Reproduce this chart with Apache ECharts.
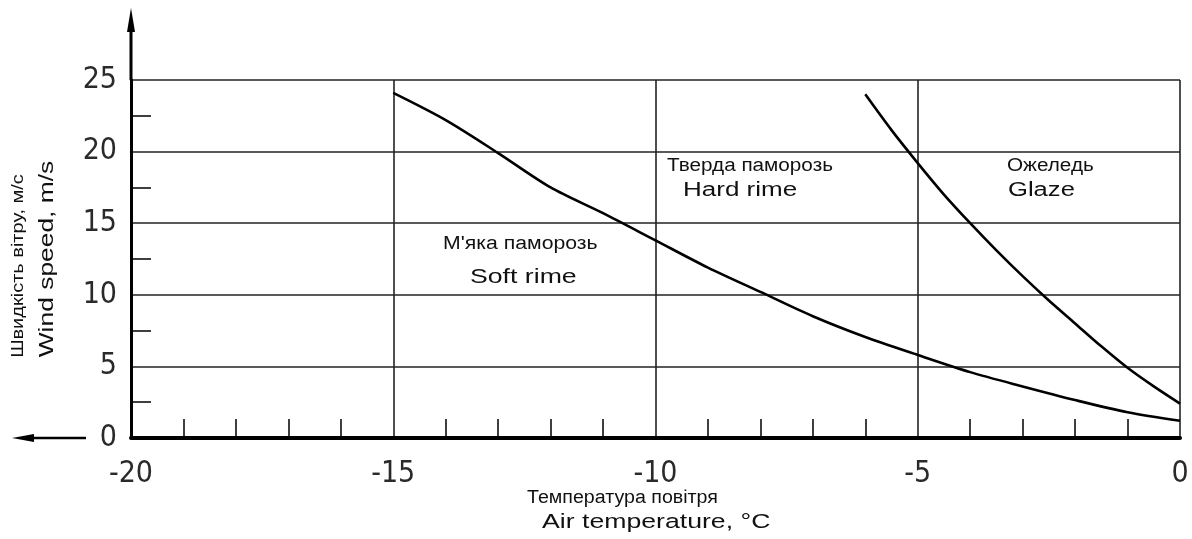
<!DOCTYPE html>
<html><head><meta charset="utf-8">
<script src="https://cdn.jsdelivr.net/npm/echarts@6/dist/echarts.min.js"></script>
<style>html,body{margin:0;padding:0;background:#fff}#c{width:1192px;height:539px}</style>
</head><body><div id="c"></div>
<script>
// ---- data ----
const softTemp  = [-15, -14, -13, -12, -11, -10, -9, -8, -7, -6, -5, -4, -3, -2, -1, 0];
const softWind  = [24.1, 22.2, 19.9, 17.5, 15.7, 13.8, 11.9, 10.2, 8.5, 7.05, 5.8, 4.6, 3.6, 2.65, 1.8, 1.2];
const glazeTemp = [-6, -5.5, -5, -4.5, -4, -3.5, -3, -2.5, -2, -1.5, -1, -0.5, 0];
const glazeWind = [24, 21.5, 19.2, 17.0, 15.0, 13.1, 11.3, 9.6, 8.0, 6.4, 4.9, 3.6, 2.4];
const xTicks = [-20, -15, -10, -5, 0];
const yTicks = [0, 5, 10, 15, 20, 25];
const regionUk = ['Тверда паморозь', 'Ожеледь', "М'яка паморозь"];
const regionEn = ['Hard rime', 'Glaze', 'Soft rime'];
const yTitle = ['Швидкість вітру, м/с', 'Wind speed, m/s'];
const xTitle = ['Температура повітря', 'Air temperature, °C'];

const zip = (a, b) => a.map((v, i) => [v, b[i]]);
const tickFont = "'Liberation Sans Narrow', 'Arial Narrow', 'DejaVu Sans Condensed', sans-serif";
const textFont = "'Liberation Sans', Arial, sans-serif";

const chart = echarts.init(document.getElementById('c'), null, {renderer: 'canvas'});
const option = {
  animation: false,
  backgroundColor: '#fff',
  grid: {left: 131, right: 12, top: 80, bottom: 101},
  xAxis: {
    type: 'value',
    min: xTicks[0], max: xTicks[xTicks.length - 1], interval: xTicks[1] - xTicks[0],
    axisLine: {show: true, onZero: false, lineStyle: {color: '#000', width: 4}},
    axisTick: {show: false, inside: true},
    minorTick: {show: true, splitNumber: 5, length: 19, lineStyle: {color: '#000', width: 1.5}},
    splitLine: {show: true, showMinLine: false, lineStyle: {color: '#222', width: 1.6}},
    axisLabel: {color: '#2a2a2a', fontSize: 30, fontFamily: tickFont, margin: 21}
  },
  yAxis: {
    type: 'value',
    min: yTicks[0], max: yTicks[yTicks.length - 1], interval: yTicks[1] - yTicks[0],
    axisLine: {show: true, onZero: false, lineStyle: {color: '#000', width: 3}},
    axisTick: {show: false, inside: true},
    minorTick: {show: true, splitNumber: 2, length: 20, lineStyle: {color: '#000', width: 1.5}},
    splitLine: {show: true, showMinLine: false, lineStyle: {color: '#222', width: 1.6}},
    axisLabel: {color: '#2a2a2a', fontSize: 30, fontFamily: tickFont, margin: 14}
  },
  series: [
    {type: 'line', data: zip(softTemp, softWind), smooth: 0.3, showSymbol: false,
     lineStyle: {color: '#000', width: 2.6}, z: 5},
    {type: 'line', data: zip(glazeTemp, glazeWind), smooth: 0.3, showSymbol: false,
     lineStyle: {color: '#000', width: 2.6}, z: 5}
  ]
};
chart.setOption(option);

const o = chart.convertToPixel({gridIndex: 0}, [xTicks[0], yTicks[0]]);
const t = chart.convertToPixel({gridIndex: 0}, [xTicks[0], yTicks[yTicks.length - 1]]);

function txt(x, y, s, size, sx) {
  return {
    type: 'text', x: x, y: y, scaleX: sx, z: 10,
    style: {text: s, fill: '#111', fontSize: size, fontFamily: textFont,
      align: 'left', verticalAlign: 'top', textAlign: 'left', textVerticalAlign: 'top'}
  };
}
function rtxt(x, y, s, size, sx) {
  return {
    type: 'text', x: x, y: y, rotation: Math.PI / 2, scaleX: sx, z: 10,
    style: {text: s, fill: '#111', fontSize: size, fontFamily: textFont,
      align: 'center', verticalAlign: 'middle', textAlign: 'center', textVerticalAlign: 'middle'}
  };
}

chart.setOption({
  graphic: [
    // y-axis extension with arrow
    {type: 'line', z: 10, shape: {x1: o[0], y1: t[1], x2: o[0], y2: 24}, style: {stroke: '#000', lineWidth: 3}},
    {type: 'polygon', z: 10, shape: {points: [[o[0] - 4, 32], [o[0], 8], [o[0] + 4, 32]]}, style: {fill: '#000'}},
    // left arrow at the x-axis level
    {type: 'line', z: 10, shape: {x1: 86, y1: o[1], x2: 26, y2: o[1]}, style: {stroke: '#000', lineWidth: 2.5}},
    {type: 'polygon', z: 10, shape: {points: [[34, o[1] - 4], [12, o[1]], [34, o[1] + 4]]}, style: {fill: '#000'}},
    // region labels
    txt(667, 157, regionUk[0], 18, 1.15),
    txt(683, 180, regionEn[0], 20, 1.3),
    txt(1007, 157, regionUk[1], 18, 1.15),
    txt(1008, 180, regionEn[1], 20, 1.28),
    txt(443, 235, regionUk[2], 18, 1.18),
    txt(470, 267, regionEn[2], 21, 1.27),
    // axis titles
    txt(527, 489, xTitle[0], 18, 1.09),
    txt(542, 512, xTitle[1], 20.5, 1.3),
    rtxt(19, 266, yTitle[0], 16, 1.25),
    rtxt(47, 259, yTitle[1], 20, 1.32)
  ]
});
</script>
</body></html>
